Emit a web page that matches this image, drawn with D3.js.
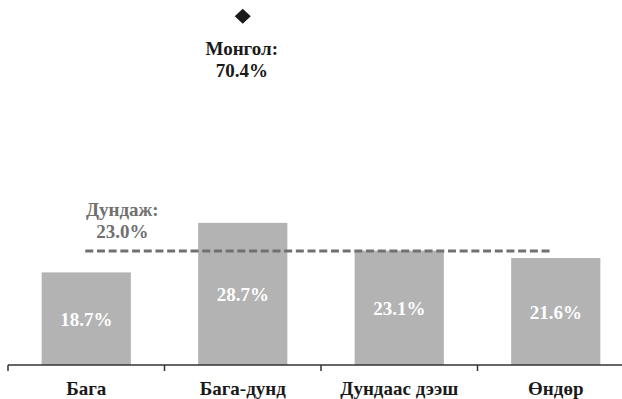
<!DOCTYPE html>
<html>
<head>
<meta charset="utf-8">
<script src="https://cdn.jsdelivr.net/npm/d3@7"></script>
<style>
  html, body { margin: 0; padding: 0; background: #fff; }
</style>
</head>
<body>
<svg id="chart" width="622" height="399"></svg>
<script>
// Education groups and their shares (%)
const categories = ["Бага", "Бага-дунд", "Дундаас дээш", "Өндөр"];
const values = [18.7, 28.7, 23.1, 21.6];
const valueLabels = ["18.7%", "28.7%", "23.1%", "21.6%"];

// Reference values
const averageValue = 23.0;
const averageLabel = ["Дундаж:", "23.0%"];
const nationalCategory = "Бага-дунд";
const nationalValue = 70.4;
const nationalLabel = ["Монгол:", "70.4%"];

const svg = d3.select("#chart");
const baseY = 365;
const fontSize = 19;
const serif = '"Liberation Serif", "Times New Roman", serif';

const x = d3.scaleBand()
  .domain(categories)
  .range([8, 634])
  .paddingInner(0.43)
  .paddingOuter(0.215);

const y = d3.scaleLinear()
  .domain([0, 73.7])
  .range([baseY, 0]);

const step = x.step();
const cx = d => x(d) + x.bandwidth() / 2;

const styleText = sel => sel
  .style("font-family", serif)
  .style("font-weight", "700")
  .attr("font-size", fontSize);

// Bars
svg.append("g")
  .selectAll("rect")
  .data(categories)
  .join("rect")
  .attr("x", d => x(d))
  .attr("width", x.bandwidth())
  .attr("y", (d, i) => y(values[i]))
  .attr("height", (d, i) => y(0) - y(values[i]))
  .attr("fill", "#b3b3b3");

// Value labels inside bars
svg.append("g")
  .selectAll("text")
  .data(categories)
  .join("text")
  .attr("x", d => cx(d))
  .attr("y", (d, i) => (y(values[i]) + y(0)) / 2 + 7)
  .attr("text-anchor", "middle")
  .attr("fill", "#ffffff")
  .call(styleText)
  .text((d, i) => valueLabels[i]);

// Average line
const avgY = y(averageValue);
svg.append("line")
  .attr("x1", cx(categories[0]) - 1)
  .attr("x2", cx(categories[categories.length - 1]) - 3)
  .attr("y1", avgY)
  .attr("y2", avgY)
  .attr("stroke", "#707070")
  .attr("stroke-width", 3)
  .attr("stroke-dasharray", "8,3.7");

svg.append("text")
  .attr("text-anchor", "middle")
  .attr("fill", "#707070")
  .call(styleText)
  .selectAll("tspan")
  .data(averageLabel)
  .join("tspan")
  .attr("x", cx(categories[0]) + 36)
  .attr("y", (d, i) => avgY - 35 + i * 22)
  .text(d => d);

// National value marker
const nx = cx(nationalCategory);
const ny = y(nationalValue);
svg.append("path")
  .attr("d", "M0,-7.5L8,0L0,7.5L-8,0Z")
  .attr("transform", `translate(${nx},${ny})`)
  .attr("fill", "#1a1a1a");

svg.append("text")
  .attr("text-anchor", "middle")
  .attr("fill", "#1a1a1a")
  .call(styleText)
  .selectAll("tspan")
  .data(nationalLabel)
  .join("tspan")
  .attr("x", nx - 1)
  .attr("y", (d, i) => ny + 38.5 + i * 22)
  .text(d => d);

// Category axis with ticks between groups
const axis = svg.append("g");
axis.append("line")
  .attr("x1", 8).attr("x2", 622)
  .attr("y1", baseY).attr("y2", baseY)
  .attr("stroke", "#333")
  .attr("stroke-width", 1.5);

axis.selectAll("line.tick")
  .data(categories)
  .join("line")
  .attr("class", "tick")
  .attr("x1", d => x(d) - step * x.paddingInner() / 2)
  .attr("x2", d => x(d) - step * x.paddingInner() / 2)
  .attr("y1", baseY)
  .attr("y2", baseY + 6)
  .attr("stroke", "#333")
  .attr("stroke-width", 1.5);

axis.selectAll("text.cat")
  .data(categories)
  .join("text")
  .attr("class", "cat")
  .attr("x", d => cx(d))
  .attr("y", 395)
  .attr("text-anchor", "middle")
  .attr("fill", "#1a1a1a")
  .call(styleText)
  .text(d => d);
</script>
</body>
</html>
